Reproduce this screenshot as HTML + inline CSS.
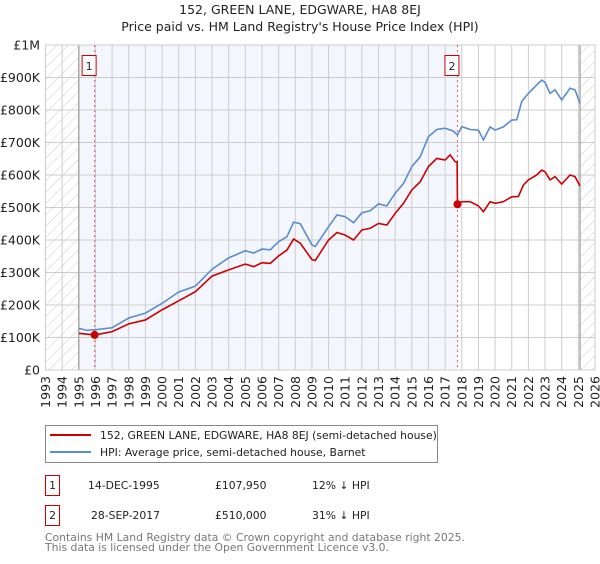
<!DOCTYPE html>
<html><head><meta charset="utf-8"><style>
body{margin:0;width:600px;height:560px;background:#fff;font-family:"DejaVu Sans","Liberation Sans",sans-serif;overflow:hidden}
svg text{font-family:"DejaVu Sans","Liberation Sans",sans-serif}
</style></head><body>
<svg id="chart" width="600" height="560" xmlns="http://www.w3.org/2000/svg">
<defs><pattern id="hatch" width="8" height="8" patternUnits="userSpaceOnUse" patternTransform="rotate(45)"><line x1="0" y1="0" x2="0" y2="8" stroke="#ccc" stroke-width="1"/></pattern></defs>
<text x="300" y="14" text-anchor="middle" font-size="12.5" fill="#222">152, GREEN LANE, EDGWARE, HA8 8EJ</text>
<text x="300" y="31" text-anchor="middle" font-size="12.5" fill="#222">Price paid vs. HM Land Registry's House Price Index (HPI)</text>
<g id="plot"></g>
<g>
<rect x="45.5" y="425.5" width="392" height="37" fill="#fff" stroke="#888"/>
<line x1="50" y1="435" x2="91" y2="435" stroke="#cc0000" stroke-width="2"/>
<text x="100" y="439" font-size="10.8" fill="#222">152, GREEN LANE, EDGWARE, HA8 8EJ (semi-detached house)</text>
<line x1="50" y1="452" x2="91" y2="452" stroke="#5b8ccf" stroke-width="2"/>
<text x="100" y="456" font-size="10.8" fill="#222">HPI: Average price, semi-detached house, Barnet</text>
</g>
<g font-size="10.8" fill="#222">
<rect x="45.5" y="475.5" width="14" height="20" fill="none" stroke="#cc0000"/>
<text x="52.5" y="489" text-anchor="middle">1</text>
<text x="88" y="489">14-DEC-1995</text><text x="215" y="489">£107,950</text><text x="312" y="489">12% ↓ HPI</text>
</g>
<g font-size="10.8" fill="#222">
<rect x="45.5" y="505.5" width="14" height="20" fill="none" stroke="#cc0000"/>
<text x="52.5" y="519" text-anchor="middle">2</text>
<text x="91" y="519">28-SEP-2017</text><text x="215" y="519">£510,000</text><text x="312" y="519">31% ↓ HPI</text>
</g>
<text x="45" y="541" font-size="10.8" fill="#777">Contains HM Land Registry data © Crown copyright and database right 2025.</text>
<text x="45" y="551" font-size="10.8" fill="#777">This data is licensed under the Open Government Licence v3.0.</text>
</svg>
<script>
const hpiYears=[1995.0,1995.5,1996,1997,1998,1999,2000,2001,2002,2003,2004,2005,2005.5,2006,2006.5,2007,2007.5,2007.9,2008.3,2009,2009.2,2010,2010.5,2011,2011.5,2012,2012.5,2013,2013.5,2014,2014.5,2015,2015.5,2016,2016.5,2017,2017.5,2017.74,2018,2018.5,2019,2019.3,2019.7,2020,2020.5,2021,2021.3,2021.6,2022,2022.5,2022.8,2023,2023.3,2023.6,2024,2024.5,2024.8,2025.1];
const hpiValues=[128,122,124,130,160,175,205,240,258,310,345,367,360,372,370,395,410,455,450,385,380,441,477,472,453,484,490,511,505,544,574,626,656,718,740,744,735,723,749,740,738,708,748,738,748,769,770,826,851,877,892,885,851,862,831,867,862,820];
const redYears=[1995.0,1995.95,1996,1997,1998,1999,2000,2001,2002,2003,2004,2005,2005.5,2006,2006.5,2007,2007.5,2007.9,2008.3,2009,2009.2,2010,2010.5,2011,2011.5,2012,2012.5,2013,2013.5,2014,2014.5,2015,2015.5,2016,2016.5,2017,2017.3,2017.6,2017.72,2017.74,2018,2018.5,2019,2019.3,2019.7,2020,2020.5,2021,2021.4,2021.7,2022,2022.5,2022.8,2023,2023.3,2023.6,2024,2024.5,2024.8,2025.1];
const redValues=[113,108,108,118,142,154,185,213,241,289,308,326,318,330,328,351,369,403,390,340,337,400,423,415,400,431,436,451,446,482,513,554,579,626,651,646,662,641,640,510,518,518,505,487,518,513,518,533,534,569,585,600,615,610,585,595,572,600,595,566];
const yTicks=[0,100,200,300,400,500,600,700,800,900,1000];
const yTickLabels=["£0","£100K","£200K","£300K","£400K","£500K","£600K","£700K","£800K","£900K","£1M"];
const xTicks=[1993,1994,1995,1996,1997,1998,1999,2000,2001,2002,2003,2004,2005,2006,2007,2008,2009,2010,2011,2012,2013,2014,2015,2016,2017,2018,2019,2020,2021,2022,2023,2024,2025,2026];
const sales=[{year:1995.95,value:107.95,label:"1"},{year:2017.74,value:510,label:"2"}];
const X0=45.5,X1=595,Y0=370,Y1=45;
const xs=y=>X0+(y-1993)/(2026-1993)*(X1-X0);
const ys=v=>Y0-v/1000*(Y0-Y1);
const NS="http://www.w3.org/2000/svg";
const g=document.getElementById('plot');
function mk(t,a,p){const e=document.createElementNS(NS,t);for(const k in a)e.setAttribute(k,a[k]);(p||g).appendChild(e);return e;}
let e;
e=mk('rect',{x:xs(1995),y:Y1,width:xs(sales[1].year)-xs(1995),height:Y0-Y1,fill:'#eef3fc',opacity:0.7});


e=mk('rect',{x:X0,y:Y1,width:xs(1995)-X0,height:Y0-Y1,fill:'url(#hatch)'});


e=mk('rect',{x:xs(2025.1),y:Y1,width:X1-xs(2025.1),height:Y0-Y1,fill:'url(#hatch)'});


yTicks.forEach((v,i)=>{
 e=mk('line',{x1:X0,x2:X1,y1:ys(v),y2:ys(v),stroke:'#ccc'});
 
 
 e=mk('text',{x:40,y:ys(v)+4.5,'text-anchor':'end','font-size':12.5,fill:'#222'});
 e.textContent=yTickLabels[i];
 
 
});
xTicks.forEach(yr=>{
 e=mk('line',{x1:xs(yr),x2:xs(yr),y1:Y1,y2:Y0,stroke:'#ccc'});
 
 
 e=mk('text',{x:0,y:0,'font-size':12.5,fill:'#222','text-anchor':'end',transform:`translate(${xs(yr)+4.5},376) rotate(-90)`});
 e.textContent=yr;
 
 
});
[1995,2025.1].forEach(yr=>{e=mk('line',{x1:xs(yr),x2:xs(yr),y1:Y1,y2:Y0,stroke:'#999','stroke-width':1.2});
 
 });
e=mk('rect',{x:X0,y:Y1,width:X1-X0,height:Y0-Y1,fill:'none',stroke:'#ccc'});


sales.forEach(s=>{
 e=mk('line',{x1:xs(s.year),x2:xs(s.year),y1:Y1,y2:Y0,stroke:'#e06060','stroke-dasharray':'2,3'});
 
 
 const bx=xs(s.year)-13;
 e=mk('rect',{x:bx+0.5,y:55.5,width:14,height:20,fill:'#fff',stroke:'#cc0000'});
 
 
 e=mk('text',{x:bx+7.5,y:70,'text-anchor':'middle','font-size':11,fill:'#222'});
 e.textContent=s.label;
 
 
});
e=mk('polyline',{points:hpiYears.map((y,i)=>xs(y)+','+ys(hpiValues[i])).join(' '),fill:'none',stroke:'#5b8ccf','stroke-width':1.6});


e=mk('polyline',{points:redYears.map((y,i)=>xs(y)+','+ys(redValues[i])).join(' '),fill:'none',stroke:'#cc0000','stroke-width':1.6});


sales.forEach(s=>{
 e=mk('circle',{cx:xs(s.year),cy:ys(s.value),r:4,fill:'#cc0000'});
 
 
});
</script>
</body></html>
